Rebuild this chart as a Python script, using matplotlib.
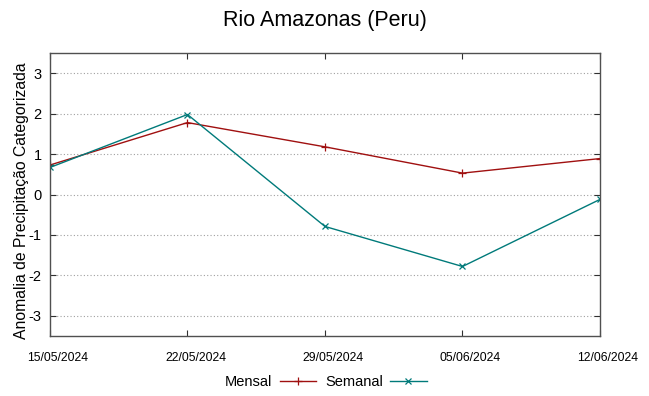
import matplotlib
matplotlib.use("Agg")
import matplotlib.pyplot as plt
from matplotlib.transforms import ScaledTranslation

# dados
datas = ["15/05/2024", "22/05/2024", "29/05/2024", "05/06/2024", "12/06/2024"]
mensal = [0.73, 1.78, 1.18, 0.53, 0.89]
semanal = [0.67, 1.98, -0.79, -1.78, -0.12]
yticks = [-3, -2, -1, 0, 1, 2, 3]

plt.rcParams['font.family'] = ['Liberation Sans', 'DejaVu Sans']

fig = plt.figure(figsize=(6.49, 3.96), dpi=100)
ax = fig.add_axes([0.077, 0.1515, 0.8475, 0.7145])

x = list(range(len(datas)))
ax.plot(x, mensal, color='#a01010', lw=1.0, marker='+', ms=6, mew=0.9, label='Mensal')
ax.plot(x, semanal, color='#007a7a', lw=1.0, marker='x', ms=5, mew=0.9, label='Semanal')

ax.set_xlim(0, len(datas) - 1)
ax.set_ylim(-3.5, 3.5)
ax.set_xticks(x)
ax.set_xticklabels(datas, fontsize=8.8)
ax.set_yticks(yticks)
ax.set_yticklabels([str(v) for v in yticks], fontsize=10.5)
ax.tick_params(direction='in', top=True, right=True, length=4, color='#303030')
ax.tick_params(axis='x', pad=11.5)
ax.tick_params(axis='y', pad=6)
# rotulos das datas deslocados um pouco para a direita (estilo gnuplot)
desloc = ScaledTranslation(8 / 100, 0, fig.dpi_scale_trans)
for lbl in ax.get_xticklabels():
    lbl.set_transform(lbl.get_transform() + desloc)

ax.grid(axis='y', linestyle=(0, (1, 2)), color='#a0a0a0', lw=0.8)
for s in ax.spines.values():
    s.set_color('#505050')
    s.set_linewidth(1.0)

ax.set_ylabel("Anomalia de Precipitação Categorizada", fontsize=11.3)
ax.yaxis.set_label_coords(-0.039, 0.48)
fig.suptitle("Rio Amazonas (Peru)", fontsize=15.5, y=0.975)

fig.legend(loc='center', bbox_to_anchor=(0.502, 0.035), ncol=2, frameon=False,
           markerfirst=False, fontsize=10.5, handlelength=2.5, columnspacing=0.6,
           handletextpad=0.5)

fig.savefig("out.png", dpi=100)
